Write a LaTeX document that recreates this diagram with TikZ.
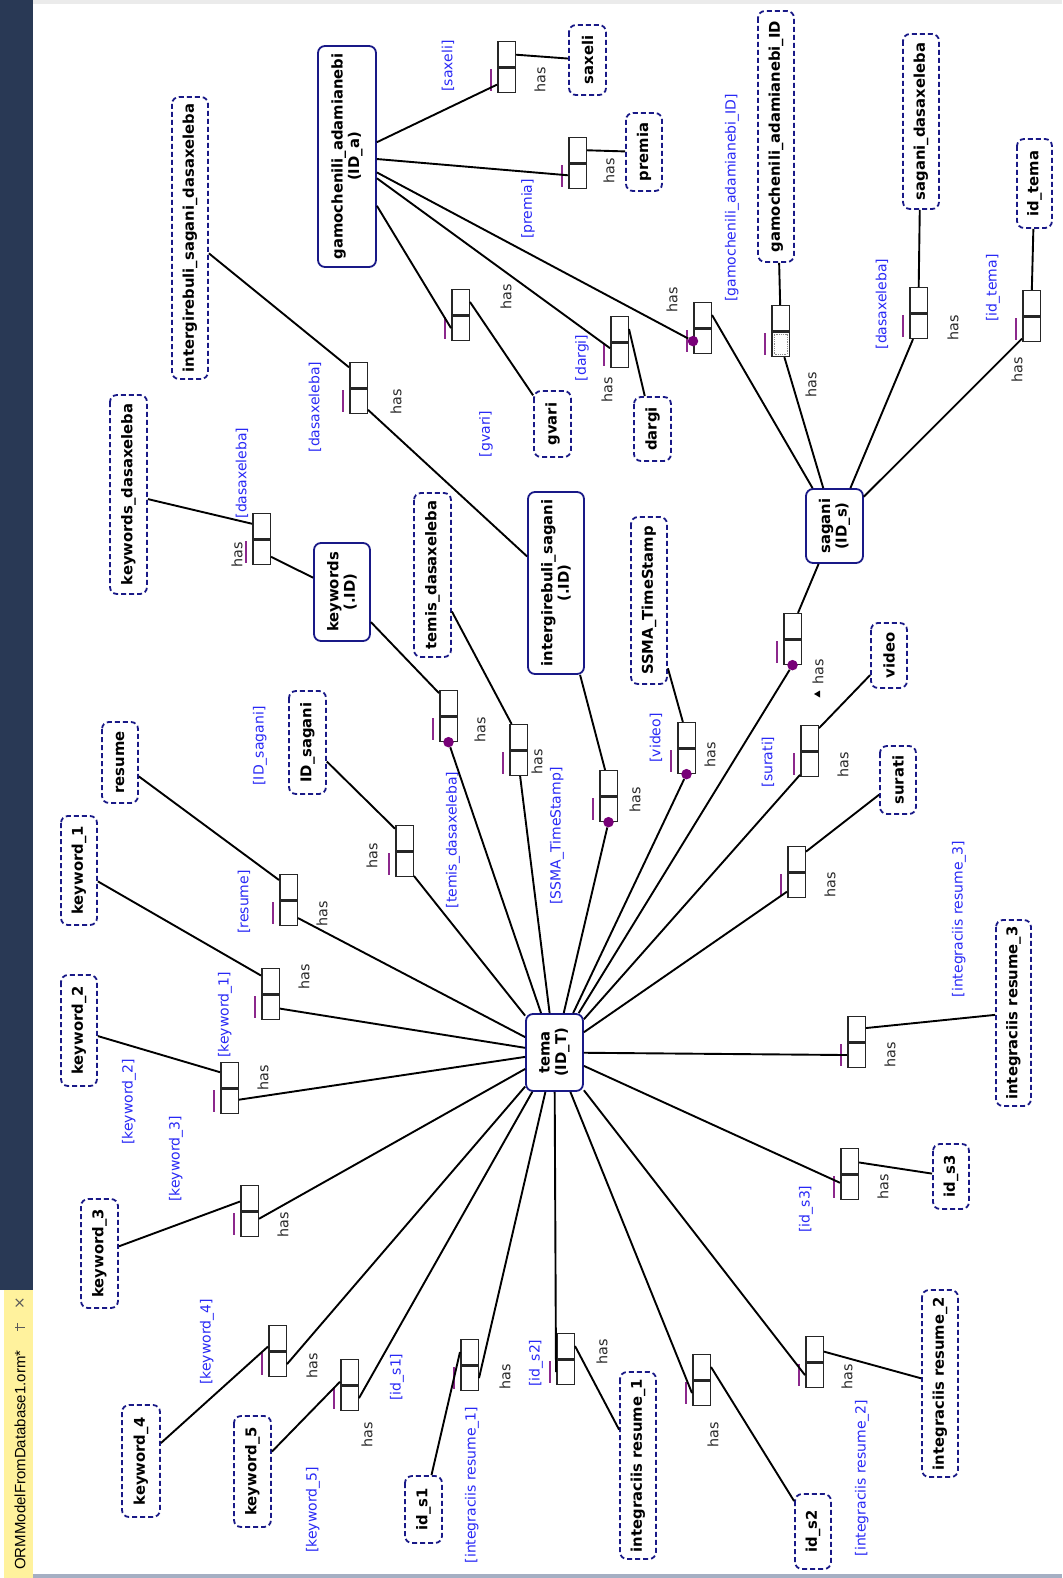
\documentclass[tikz,border=0pt]{standalone}
\usepackage{fontspec}
\setmainfont{DejaVu Sans}
\newfontfamily\tabfont{Liberation Sans}

\definecolor{ormnavy}{RGB}{25,25,135}
\definecolor{ormblue}{RGB}{40,40,245}
\definecolor{ormpurple}{RGB}{140,40,140}
\definecolor{ormdot}{RGB}{120,0,120}
\definecolor{hasgray}{RGB}{40,40,40}
\definecolor{stripnavy}{RGB}{41,57,85}
\definecolor{tabyellow}{RGB}{255,242,157}
\definecolor{frameline}{RGB}{165,175,195}

\begin{document}
\begin{tikzpicture}[x=1pt, y=-1pt, every node/.style={inner sep=2pt},
  entity/.style={draw=ormnavy, line width=1.8pt, rounded corners=7pt, fill=white, rotate=90, align=center, font=\fontsize{14.8}{16.5}\selectfont\bfseries},
  value/.style={entity, dash pattern=on 5pt off 3pt},
  role/.style={draw=black!85, line width=1.5pt, fill=white, minimum width=17.5pt, minimum height=24.6pt, inner sep=0pt},
  uniq/.style={ormpurple, line width=1.9pt},
  mand/.style={circle, fill=ormdot, inner sep=0pt, minimum size=10.5pt},
  lbl/.style={rotate=90, text=ormblue, font=\fontsize{14}{15}\selectfont},
  hastxt/.style={rotate=90, text=hasgray, font=\fontsize{14.3}{15}\selectfont},
  link/.style={line width=1.9pt, black}]
\useasboundingbox (0,0) rectangle (1062,1578);
% window frame
\fill[stripnavy] (0,0) rectangle (33,1290);
\fill[tabyellow] (4,1290) rectangle (33,1578);
\fill[black!8] (33,0) rectangle (1062,4);
\fill[frameline] (33,1574) rectangle (1062,1578);
\node[rotate=90, anchor=west, font=\tabfont\fontsize{15}{16}\selectfont] (tabtitle) at (20,1572) {ORMModelFromDatabase1.orm*};
\node[rotate=90, text=black!65, font=\fontsize{15}{16}\selectfont] (tabclose) at (20,1303) {×};
\draw[black!65, line width=1pt] (15,1327) -- (25,1327) (17,1323) -- (17,1331);

% entity types
\node[entity, minimum width=221pt, minimum height=58pt] (gam) at (347,156.5) {gamochenili\_adamianebi\\(ID\_a)};
\node[entity, minimum width=77pt, minimum height=57pt] (tema) at (554.5,1052.5) {tema\\(ID\_T)};
\node[entity, minimum width=98pt, minimum height=56pt] (keywords) at (342,592) {keywords\\(.ID)};
\node[entity, minimum width=182pt, minimum height=56pt] (intsag) at (556,583) {intergirebuli\_sagani\\(.ID)};
\node[entity, minimum width=74pt, minimum height=57pt] (sagani) at (834.5,526) {sagani\\(ID\_s)};

% value types
\node[value, minimum width=70pt, minimum height=37pt] (saxeli) at (587.5,60) {saxeli};
\node[value, minimum width=78pt, minimum height=36pt] (premia) at (644,152) {premia};
\node[value, minimum width=251pt, minimum height=36pt] (gamID) at (776,136.5) {gamochenili\_adamianebi\_ID};
\node[value, minimum width=175pt, minimum height=36pt] (sagdas) at (921,121.5) {sagani\_dasaxeleba};
\node[value, minimum width=89pt, minimum height=35pt] (idtema) at (1034.5,183.5) {id\_tema};
\node[value, minimum width=64pt, minimum height=37pt] (dargi) at (652.5,429) {dargi};
\node[value, minimum width=66pt, minimum height=37pt] (gvari) at (552.5,424) {gvari};
\node[value, minimum width=282pt, minimum height=36pt] (isdas) at (190,238) {intergirebuli\_sagani\_dasaxeleba};
\node[value, minimum width=199pt, minimum height=37pt] (kwdas) at (128.5,494.5) {keywords\_dasaxeleba};
\node[value, minimum width=164pt, minimum height=37pt] (temisdas) at (432.5,575) {temis\_dasaxeleba};
\node[value, minimum width=167pt, minimum height=36pt] (ssma) at (649,600.5) {SSMA\_TimeStamp};
\node[value, minimum width=65pt, minimum height=36pt] (video) at (889,655.5) {video};
\node[value, minimum width=68pt, minimum height=36pt] (surati) at (898,780) {surati};
\node[value, minimum width=103pt, minimum height=37pt] (idsagani) at (307.5,742.5) {ID\_sagani};
\node[value, minimum width=81pt, minimum height=36pt] (resume) at (120,762.5) {resume};
\node[value, minimum width=109pt, minimum height=36pt] (kw1) at (79,870.5) {keyword\_1};
\node[value, minimum width=111pt, minimum height=36pt] (kw2) at (79,1030.5) {keyword\_2};
\node[value, minimum width=109pt, minimum height=37pt] (kw3) at (99.5,1253.5) {keyword\_3};
\node[value, minimum width=112pt, minimum height=38pt] (kw4) at (141,1461) {keyword\_4};
\node[value, minimum width=111pt, minimum height=37pt] (kw5) at (252.5,1471.5) {keyword\_5};
\node[value, minimum width=67pt, minimum height=37pt] (ids1) at (423.5,1509.5) {id\_s1};
\node[value, minimum width=187pt, minimum height=36pt] (ir1) at (638,1465.5) {integraciis resume\_1};
\node[value, minimum width=75pt, minimum height=36pt] (ids2) at (813,1531.5) {id\_s2};
\node[value, minimum width=187pt, minimum height=36pt] (ir2) at (940,1383.5) {integraciis resume\_2};
\node[value, minimum width=65pt, minimum height=36pt] (ids3) at (951,1176.5) {id\_s3};
\node[value, minimum width=186pt, minimum height=35pt] (ir3) at (1013.5,1013) {integraciis resume\_3};

% fact types: upper role, lower role, uniqueness bar
\foreach \n/\x/\y in {1/497/41, 2/568/137, 3/451/289, 4/610/316, 5/693/302, 6/771/305, 7/909/287, 8/1022/290, 9/349/362, 10/252/513, 11/439/690, 12/509/724, 13/599/770, 14/677/722, 15/783/613, 16/800/725, 17/787/846, 18/847/1016, 19/840/1148, 20/805/1336, 21/692/1354, 22/556/1333, 23/460/1339, 24/340/1359, 25/268/1325, 26/240/1185, 27/220/1062, 28/261/968, 29/279/874, 30/395/825} {
  \node[role] (u\n) at (\x+9.5,\y+13) {};
  \node[role, anchor=north] (l\n) at (u\n.south) {};
  \draw[uniq] ([xshift=-6pt, yshift=-2pt]l\n.north west) -- ([xshift=-6pt, yshift=2pt]l\n.south west);
}
\draw[black!45, densely dotted, line width=0.8pt] ([shift={(3pt,3pt)}]l6.south west) rectangle ([shift={(-3pt,-3pt)}]l6.north east);

% mandatory roles
\node[mand] (d5) at (l5.west) {};
\node[mand] (d11) at (l11.south) {};
\node[mand] (d13) at (l13.south) {};
\node[mand] (d14) at (l14.south) {};
\node[mand] (d15) at (l15.south) {};

% role names
\foreach \n/\x/\y/\t in {1/448/66/{[saxeli]}, 2/528/209/{[premia]}, 3/486/434/{[gvari]}, 4/582/358/{[dargi]}, 5/732/198/{[gamochenili\_adamianebi\_ID]}, 6/882/304/{[dasaxeleba]}, 7/993/288/{[id\_tema]}, 8/315/407/{[dasaxeleba]}, 9/242/473/{[dasaxeleba]}, 10/260/746/{[ID\_sagani]}, 11/453/840/{[temis\_dasaxeleba]}, 12/557/836/{[SSMA\_TimeStamp]}, 13/656/738/{[video]}, 14/768/762/{[surati]}, 15/959/919/{[integraciis resume\_3]}, 16/806/1209/{[id\_s3]}, 17/862/1478/{[integraciis resume\_2]}, 18/536/1363/{[id\_s2]}, 19/472/1485/{[integraciis resume\_1]}, 20/397/1377/{[id\_s1]}, 21/313/1510/{[keyword\_5]}, 22/207/1342/{[keyword\_4]}, 23/176/1159/{[keyword\_3]}, 24/129/1102/{[keyword\_2]}, 25/225/1015/{[keyword\_1]}, 26/244/902/{[resume]}}
  \node[lbl] (r\n) at (\x,\y) {\t};

% readings
\foreach \n/\x/\y in {1/540/80, 2/609/171, 3/506/297, 4/607/390, 5/672/300, 6/811/385, 7/953/328, 8/1017/370, 9/396/402, 10/237/555, 11/480/730, 12/537/762, 13/635/800, 14/710/755, 15/818/672, 16/843/765, 17/830/885, 18/890/1055, 19/883/1187, 20/847/1377, 21/713/1435, 22/602/1352, 23/505/1377, 24/367/1435, 25/312/1366, 26/283/1225, 27/263/1078, 28/304/977, 29/322/914, 30/372/856}
  \node[hastxt] (h\n) at (\x,\y) {has};
\fill[black] (814,694) -- (820,690.5) -- (820,697.5) -- cycle;

% role connectors
\foreach \a/\b in {gam/l1, u1/saxeli, gam/l2, u2/premia, gam/l3.west, u3.east/gvari, gam/l4, u4.east/dargi, gam/d5, u5.east/sagani,
  gamID/u6, l6/sagani, sagdas/u7, l7/sagani, idtema/u8, l8/sagani, isdas/u9, l9/intsag, kwdas/u10, l10/keywords,
  keywords/u11, d11/tema, temisdas/u12, l12/tema, intsag/u13, d13/tema, ssma/u14, d14/tema, sagani/u15, d15/tema,
  video/u16, l16/tema, surati/u17, l17/tema, ir3/u18, l18/tema, ids3/u19, l19/tema, ir2/u20, l20.west/tema,
  ids2/u21.east, l21.west/tema, ir1/u22.east, l22.west/tema, ids1/u23.west, l23.east/tema, kw5/u24, l24.east/tema,
  kw4/u25, l25.east/tema, kw3/u26, l26/tema, kw2/u27, l27/tema, kw1/u28, l28/tema, resume/u29, l29/tema, idsagani/u30, l30/tema}
  \draw[link] (\a) -- (\b);
\end{tikzpicture}
\end{document}
